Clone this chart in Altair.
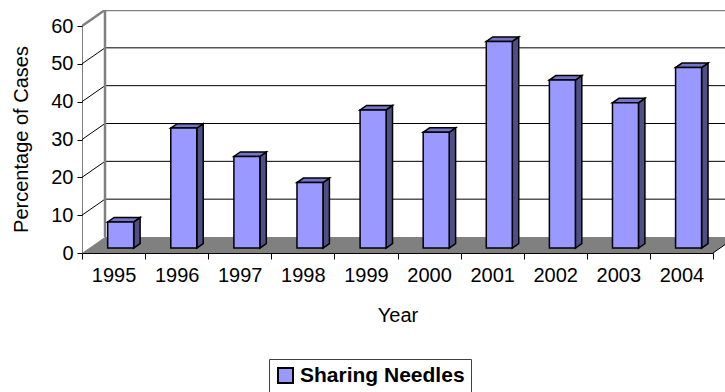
import altair as alt
import pandas as pd

# ---------------- data ----------------
years = ["1995", "1996", "1997", "1998", "1999", "2000", "2001", "2002", "2003", "2004"]
values = [6.9, 31.7, 24.2, 17.3, 36.5, 30.6, 54.6, 44.4, 38.4, 47.7]
series = "Sharing Needles"
y_ticks = [0, 10, 20, 30, 40, 50, 60]

# ---------------- layout / 3-D projection constants ----------------
W, H = 643, 243            # plot area (px)
PX_CAT = 63.1              # px per category on the front plane
PX_VAL = 227 / 60          # px per value unit
X_MAX = W / PX_CAT
Y_MAX = H / PX_VAL
DX = 23 / PX_CAT           # depth offset of back wall (x, data units)
DY = 16 / PX_VAL           # depth offset of back wall (y, data units)
F0 = 0.31                  # depth fraction where bar front faces sit
FD = 0.28                  # bar depth as a fraction of total depth
HALF = 13 / PX_CAT         # half bar width
N = len(years)
TOP = y_ticks[-1]
FONT = "Liberation Sans"

xs = alt.Scale(domain=[0, X_MAX], nice=False, zero=False)
ys = alt.Scale(domain=[0, Y_MAX], nice=False, zero=False)


def X(f):
    return alt.X(f"{f}:Q", scale=xs, axis=None)


def Y(f):
    return alt.Y(f"{f}:Q", scale=ys, axis=None)


# ---------------- derived geometry tables ----------------
floor_df = pd.DataFrame({"x": [0, DX, N, N + DX], "lo": [0, 0, 0, DY], "hi": [0, DY, DY, DY]})

grid_vals = y_ticks[1:-1]
back_grid = pd.DataFrame({"x": [DX] * len(grid_vals), "x2": [N + DX] * len(grid_vals),
                          "y": [v + DY for v in grid_vals], "y2": [v + DY for v in grid_vals]})
left_grid = pd.DataFrame({"x": [0] * len(grid_vals), "x2": [DX] * len(grid_vals),
                          "y": grid_vals, "y2": [v + DY for v in grid_vals]})
walls = pd.DataFrame({
    "x": [0, DX, DX],
    "x2": [DX, DX, N + DX],
    "y": [TOP, DY, TOP + DY],
    "y2": [TOP + DY, TOP + DY, TOP + DY],
})
front_axis = pd.DataFrame({"x": [0], "x2": [0], "y": [0], "y2": [TOP]})
floor_edge = pd.DataFrame({"x": [N], "x2": [N + DX], "y": [0], "y2": [DY]})

front_rows, side_rows, top_rows = [], [], []
bdx, bdy = FD * DX, FD * DY
yb = F0 * DY
for i, (yr, v) in enumerate(zip(years, values)):
    cx = i + 0.5 + F0 * DX
    xl, xr = cx - HALF, cx + HALF
    yt = yb + v
    front_rows.append({"year": yr, "series": series, "x": xl, "x2": xr, "y": yb, "y2": yt})
    side_rows += [
        {"year": yr, "x": xr, "lo": yb, "hi": yt},
        {"year": yr, "x": xr + bdx, "lo": yb + bdy, "hi": yt + bdy},
    ]
    top_rows += [
        {"year": yr, "x": xl, "lo": yt, "hi": yt},
        {"year": yr, "x": xl + bdx, "lo": yt, "hi": yt + bdy},
        {"year": yr, "x": xr, "lo": yt, "hi": yt + bdy},
        {"year": yr, "x": xr + bdx, "lo": yt + bdy, "hi": yt + bdy},
    ]
front_df = pd.DataFrame(front_rows)
side_df = pd.DataFrame(side_rows)
top_df = pd.DataFrame(top_rows)

# ---------------- layers ----------------
floor = alt.Chart(floor_df).mark_area(color="#808080", clip=True).encode(
    x=X("x"), y=Y("lo"), y2="hi")


def rules(df, color, width):
    return alt.Chart(df).mark_rule(color=color, strokeWidth=width, clip=True).encode(
        x=X("x"), x2="x2", y=Y("y"), y2="y2")


back = rules(back_grid, "#000000", 1)
left = rules(left_grid, "#000000", 1)
wall = rules(walls, "#808080", 2.5)
faxis = rules(front_axis, "#000000", 1)
fedge = rules(floor_edge, "#000000", 1)

side = alt.Chart(side_df).mark_area(fill="#4F4F85", stroke="black", strokeWidth=1.5).encode(
    x=X("x"), y=Y("lo"), y2="hi", detail="year:N")
top = alt.Chart(top_df).mark_area(fill="#7474C8", stroke="black", strokeWidth=1.5).encode(
    x=X("x"), y=Y("lo"), y2="hi", detail="year:N")
front = alt.Chart(front_df).mark_bar(stroke="black", strokeWidth=1.5, opacity=1).encode(
    x=X("x"), x2="x2", y=Y("y"), y2="y2",
    color=alt.Color("series:N", scale=alt.Scale(domain=[series], range=["#9999FF"]),
                    legend=alt.Legend(orient="none", legendX=187, legendY=349, title=None,
                                      symbolType="square", symbolSize=225,
                                      symbolStrokeColor="black", symbolStrokeWidth=2,
                                      symbolOpacity=1, labelLimit=400,
                                      labelFont=FONT, labelFontSize=21, labelFontWeight="bold",
                                      labelColor="black", labelOffset=4, padding=6,
                                      strokeColor="#404040", fillColor="white")))

axis_df = pd.DataFrame({"year": years, "v": values})
axis_layer = alt.Chart(axis_df).mark_bar(opacity=0).encode(
    x=alt.X("year:O", sort=years,
            scale=alt.Scale(domain=years, range=[0, N * PX_CAT], paddingInner=0, paddingOuter=0),
            axis=alt.Axis(title="Year", tickBand="extent", labelAngle=0,
                          domainColor="black", domainWidth=1, tickColor="black", tickSize=6,
                          tickWidth=1, labelFont=FONT, labelFontSize=20, labelColor="black",
                          labelPadding=6, titleFont=FONT, titleFontSize=20,
                          titleFontWeight="normal", titleColor="black", titleY=62,
                          titleBaseline="middle", zindex=1)),
    y=alt.Y("v:Q", scale=ys,
            axis=alt.Axis(values=y_ticks, title="Percentage of Cases", domain=False, grid=False,
                          orient="left",
                          tickColor="black", tickSize=5, tickWidth=1, labelFont=FONT,
                          labelFontSize=20, labelColor="black", labelPadding=4,
                          labelFlush=False, labelOverlap=False,
                          titleFont=FONT, titleFontSize=20, titleFontWeight="normal",
                          titleColor="black", titleX=-61, titleY=129, titleAngle=-90,
                          titleAlign="center", titleBaseline="middle")),
)

geom = alt.layer(floor, back, left, wall, faxis, fedge, side, top, front)

chart = alt.layer(axis_layer, geom).resolve_scale(x="independent", y="independent").properties(
    width=W, height=H,
    autosize=alt.AutoSizeParams(type="none"),
    padding={"left": 82, "top": 10, "right": 0, "bottom": 139},
    background="white",
).configure_view(stroke=None)

chart.save("out.html", embed_options={"renderer": "svg", "actions": False})
